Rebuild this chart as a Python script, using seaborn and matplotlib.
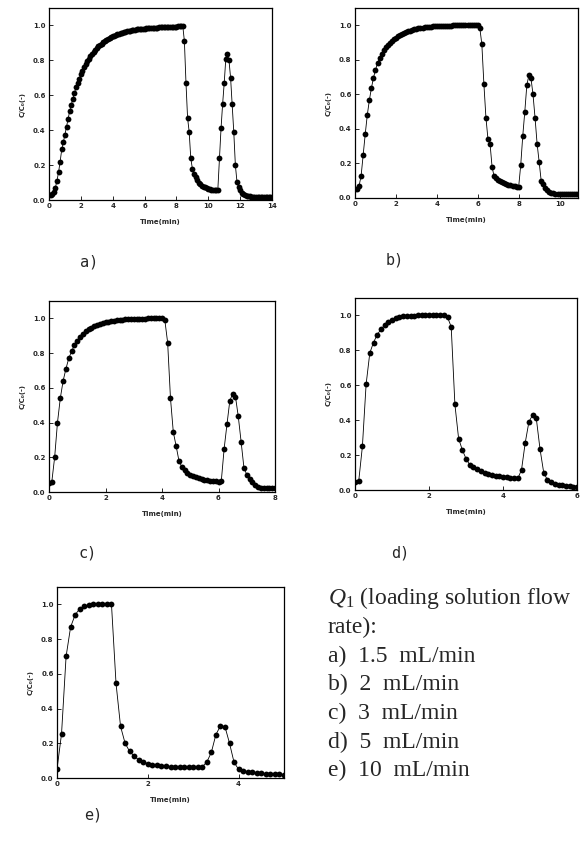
import numpy as np
import pandas as pd
import matplotlib
matplotlib.use("Agg")
import matplotlib.pyplot as plt
import seaborn as sns

# ---------------- data (C/C0) ----------------
step_a = 0.1
c_a = [0.03, 0.03, 0.035, 0.045, 0.07, 0.11, 0.16, 0.22, 0.29, 0.33,
       0.375, 0.42, 0.465, 0.51, 0.545, 0.58, 0.615, 0.645, 0.67, 0.695,
       0.72, 0.74, 0.76, 0.78, 0.795, 0.81, 0.825, 0.838, 0.85, 0.86,
       0.87, 0.88, 0.888, 0.896, 0.904, 0.91, 0.917, 0.922, 0.928, 0.933,
       0.938, 0.942, 0.946, 0.95, 0.953, 0.956, 0.959, 0.962, 0.964, 0.966,
       0.968, 0.97, 0.972, 0.974, 0.975, 0.977, 0.978, 0.979, 0.98, 0.981,
       0.982, 0.983, 0.984, 0.985, 0.986, 0.987, 0.987, 0.988, 0.988, 0.989,
       0.989, 0.99, 0.99, 0.991, 0.991, 0.992, 0.992, 0.993, 0.993, 0.994,
       0.994, 0.995, 0.995, 0.996, 0.996, 0.91, 0.67, 0.47, 0.39, 0.24,
       0.18, 0.15, 0.13, 0.115, 0.10, 0.09, 0.083, 0.077, 0.072, 0.068,
       0.064, 0.061, 0.058, 0.056, 0.055, 0.055, 0.06, 0.24, 0.41, 0.55,
       0.67, 0.81, 0.835, 0.80, 0.70, 0.55, 0.39, 0.20, 0.105, 0.075,
       0.055, 0.04, 0.032, 0.027, 0.024, 0.022, 0.021, 0.02, 0.02, 0.02,
       0.02, 0.02, 0.02, 0.02, 0.02, 0.02, 0.02, 0.02, 0.02, 0.02, 0.02]

step_b = 0.1
c_b = [0.05, 0.05, 0.07, 0.13, 0.25, 0.37, 0.48, 0.565, 0.635, 0.695,
       0.74, 0.78, 0.81, 0.835, 0.855, 0.872, 0.887, 0.90, 0.91, 0.92,
       0.928, 0.936, 0.943, 0.949, 0.955, 0.96, 0.965, 0.969, 0.973, 0.976,
       0.979, 0.982, 0.984, 0.986, 0.988, 0.99, 0.991, 0.992, 0.993, 0.994,
       0.995, 0.996, 0.996, 0.997, 0.997, 0.998, 0.998, 0.998, 0.999, 0.999,
       0.999, 1.0, 1.0, 1.0, 1.0, 1.0, 1.0, 1.0, 1.0, 1.0,
       1.0, 0.985, 0.89, 0.66, 0.465, 0.34, 0.315, 0.18, 0.125, 0.115,
       0.105, 0.098, 0.092, 0.087, 0.082, 0.078, 0.074, 0.071, 0.068, 0.065,
       0.065, 0.19, 0.36, 0.50, 0.655, 0.71, 0.695, 0.60, 0.465, 0.315,
       0.21, 0.10, 0.08, 0.06, 0.045, 0.035, 0.03, 0.027, 0.025, 0.025,
       0.025, 0.025, 0.025, 0.025, 0.025, 0.025, 0.025, 0.025, 0.025, 0.025]

step_c = 0.1
c_c = [0.05, 0.06, 0.20, 0.40, 0.54, 0.64, 0.71, 0.77, 0.81, 0.845,
       0.87, 0.89, 0.91, 0.925, 0.937, 0.947, 0.955, 0.962, 0.968, 0.973,
       0.977, 0.981, 0.984, 0.987, 0.989, 0.991, 0.993, 0.994, 0.995, 0.996,
       0.997, 0.998, 0.998, 0.999, 0.999, 1.0, 1.0, 1.0, 1.0, 1.0,
       1.0, 0.99, 0.86, 0.54, 0.345, 0.265, 0.18, 0.145, 0.125, 0.11,
       0.10, 0.092, 0.085, 0.08, 0.075, 0.071, 0.068, 0.065, 0.063, 0.061,
       0.06, 0.065, 0.25, 0.39, 0.525, 0.565, 0.55, 0.435, 0.29, 0.14,
       0.10, 0.075, 0.055, 0.04, 0.03, 0.025, 0.022, 0.022, 0.022, 0.022, 0.022]

step_d = 0.1
c_d = [0.045, 0.05, 0.25, 0.605, 0.785, 0.845, 0.89, 0.92, 0.945, 0.962,
       0.975, 0.985, 0.99, 0.995, 0.997, 0.998, 0.999, 1.0, 1.0, 1.0,
       1.0, 1.0, 1.0, 1.0, 1.0, 0.99, 0.935, 0.49, 0.295, 0.23,
       0.18, 0.145, 0.13, 0.118, 0.108, 0.10, 0.093, 0.087, 0.082, 0.078,
       0.075, 0.072, 0.07, 0.068, 0.066, 0.115, 0.27, 0.39, 0.43, 0.41,
       0.235, 0.10, 0.058, 0.045, 0.037, 0.03, 0.026, 0.023, 0.021, 0.02, 0.02]

step_e = 0.1
c_e = [0.05, 0.255, 0.70, 0.87, 0.94, 0.975, 0.99, 0.995, 1.0, 1.0,
       1.0, 1.0, 1.0, 0.545, 0.297, 0.20, 0.153, 0.125, 0.105, 0.092,
       0.083, 0.077, 0.072, 0.069, 0.067, 0.066, 0.065, 0.065, 0.065, 0.065,
       0.065, 0.065, 0.065, 0.092, 0.148, 0.25, 0.30, 0.295, 0.20, 0.09,
       0.05, 0.042, 0.037, 0.033, 0.03, 0.027, 0.025, 0.023, 0.022, 0.021, 0.02]

panel_labels = ["a)", "b)", "c)", "d)", "e)"]
x_max = [14, 10.9, 8, 6, 5]
x_ticks = [[0, 2, 4, 6, 8, 10, 12, 14], [0, 2, 4, 6, 8, 10], [0, 2, 4, 6, 8],
           [0, 2, 4, 6], [0, 2, 4]]
y_ticks = [0.0, 0.2, 0.4, 0.6, 0.8, 1.0]
legend_lines = ["rate):", "a)  1.5  mL/min", "b)  2  mL/min", "c)  3  mL/min",
                "d)  5  mL/min", "e)  10  mL/min"]

# ---------------- figure ----------------
sns.set_style("ticks")
plt.rcParams["font.family"] = ["DejaVu Sans"]
plt.rcParams["mathtext.fontset"] = "custom"
plt.rcParams["mathtext.rm"] = "Liberation Serif"
plt.rcParams["mathtext.it"] = "Liberation Serif:italic"

W, H = 584, 847
fig = plt.figure(figsize=(W / 100, H / 100), dpi=100)
fig.patch.set_facecolor("white")

# axes boxes in pixels: left, top, right, bottom
boxes = [(49, 8, 272, 200), (355, 8, 578, 198), (49, 301, 275, 492),
         (355, 298, 577, 490), (57, 587, 284, 778)]
series = [(c_a, step_a), (c_b, step_b), (c_c, step_c), (c_d, step_d), (c_e, step_e)]
label_pos = [(89, 262), (395, 260), (88, 553), (400, 553), (93, 815)]

for i, ((l, t, r, b), (vals, st)) in enumerate(zip(boxes, series)):
    ax = fig.add_axes([l / W, 1 - b / H, (r - l) / W, (b - t) / H])
    df = pd.DataFrame({"t": np.round(np.arange(len(vals)) * st, 3), "c": vals})
    sns.lineplot(data=df, x="t", y="c", ax=ax, color="black", linewidth=0.6,
                 marker="o", markersize=4.2, markeredgewidth=0,
                 markerfacecolor="black", estimator=None, sort=False)
    ax.set_xlim(0, x_max[i])
    ax.set_ylim(0, 1.1)
    ax.set_xticks(x_ticks[i])
    ax.set_yticks(y_ticks)
    ax.set_xticklabels([str(v) for v in x_ticks[i]], fontsize=5, fontweight="bold")
    ax.set_yticklabels([f"{v:.1f}" for v in y_ticks], fontsize=5, fontweight="bold")
    ax.tick_params(direction="in", length=3, width=0.7, pad=2.5)
    for sp in ax.spines.values():
        sp.set_linewidth(0.9)
        sp.set_color("black")
    ax.set_xlabel("Time(min)", fontsize=5, fontweight="bold", labelpad=7)
    ax.set_ylabel("C/C\u2080(-)", fontsize=5, fontweight="bold", labelpad=5)
    fig.text(label_pos[i][0] / W, 1 - label_pos[i][1] / H, panel_labels[i],
             family="DejaVu Sans Mono", fontsize=11, ha="center", va="center")

# Q1 description block
tx = 328 / W
fig.text(tx, 1 - 604 / H, r"$Q_{\mathrm{1}}$ (loading solution flow",
         family="Liberation Serif", fontsize=17, ha="left", va="baseline")
for j, line in enumerate(legend_lines):
    fig.text(tx, 1 - (633 + 28.7 * j) / H, line, family="Liberation Serif",
             fontsize=17, ha="left", va="baseline")

fig.savefig("out.png", dpi=100, facecolor="white")
